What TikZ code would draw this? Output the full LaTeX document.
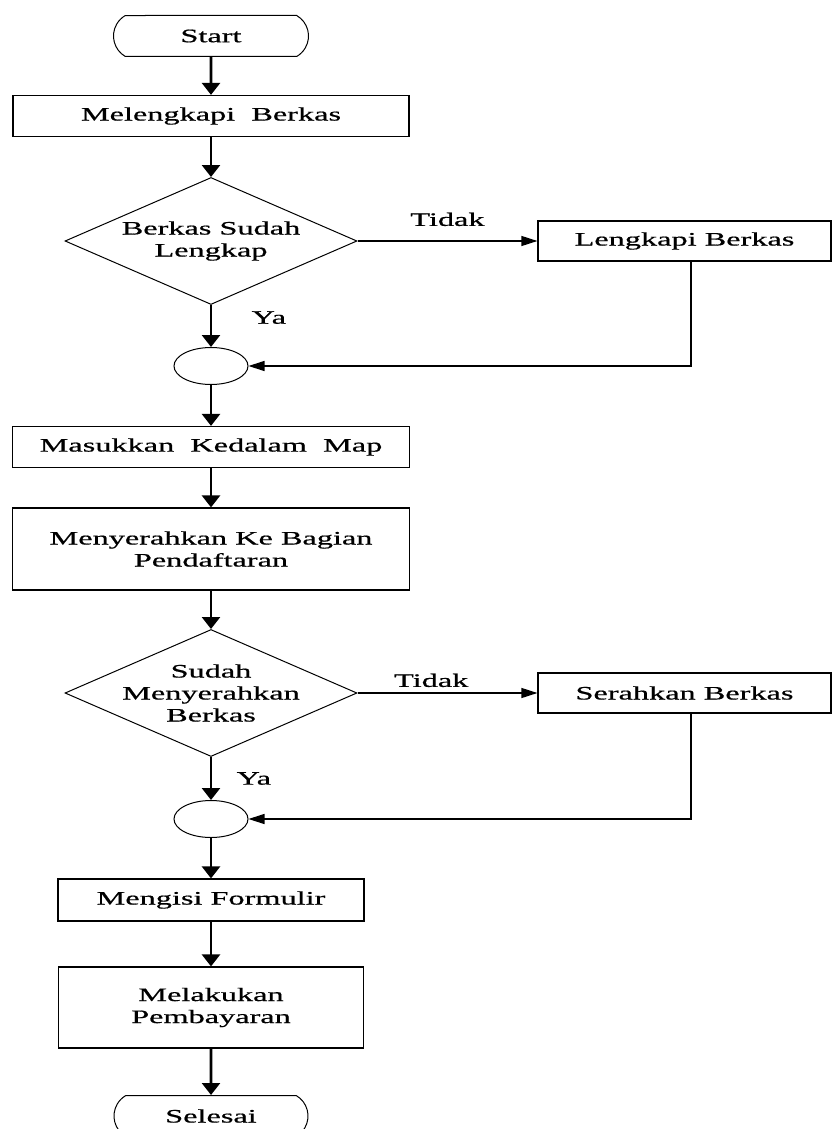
\documentclass[tikz,border=0pt]{standalone}
\usepackage{fontspec}
\setmainfont{Liberation Serif}[FakeStretch=1.7, FakeBold=0.7]
\usetikzlibrary{shapes, arrows.meta, positioning, calc}

\tikzset{
  terminal/.style={draw, line width=1pt, rounded rectangle, rounded rectangle arc length=120, minimum width=195, minimum height=41, inner sep=0pt},
  process/.style={draw, line width=1.2pt, minimum height=41, inner sep=0pt, align=center},
  decision/.style={draw, line width=1pt, diamond, minimum width=292, minimum height=127, inner sep=0pt},
  junction/.style={draw, line width=1pt, ellipse, minimum width=74, minimum height=37, inner sep=0pt},
  flow/.style={line width=2.6pt, -{Triangle[width=18pt, length=12pt]}},
  branch/.style={line width=1.2pt, -{Triangle[width=10pt, length=16pt]}},
}

\begin{document}
\begin{tikzpicture}[x=1pt, y=-1pt, font=\fontsize{19}{22}\selectfont]
  \useasboundingbox (0,0) rectangle (832,1129);

  % main column
  \node[terminal] (start) at (211,36) {Start};
  \node[process, minimum width=396] (melengkapi) at (211,116) {Melengkapi\ \ Berkas};
  \node[decision, label={[align=center]center:Berkas Sudah\\Lengkap}] (cekberkas) at (211,241) {};
  \node[junction] (gabung1) at (211,366) {};
  \node[process, minimum width=397] (masukkan) at (211,447) {Masukkan\ \ Kedalam\ \ Map};
  \node[process, minimum width=397, minimum height=82] (serahkan) at (211,549) {Menyerahkan Ke Bagian\\Pendaftaran};
  \node[decision, label={[align=center]center:Sudah\\Menyerahkan\\Berkas}] (cekserah) at (211,693) {};
  \node[junction] (gabung2) at (211,819) {};
  \node[process, minimum width=306, minimum height=42] (formulir) at (211,900) {Mengisi Formulir};
  \node[process, minimum width=305, minimum height=81] (bayar) at (211,1007.5) {Melakukan\\Pembayaran};
  \node[terminal, minimum width=194] (selesai) at (211,1116) {Selesai};

  % side boxes
  \node[process, minimum width=293, minimum height=40] (lengkapiberkas) at (684.5,241) {Lengkapi Berkas};
  \node[process, minimum width=293, minimum height=40] (serahkanberkas) at (684.5,693) {Serahkan Berkas};

  % arrows
  \draw[flow] (start) -- (melengkapi);
  \draw[flow] (melengkapi) -- (cekberkas);
  \draw[flow] (cekberkas) -- node[pos=0.3, right=36pt] {Ya} (gabung1);
  \draw[flow] (gabung1) -- (masukkan);
  \draw[flow] (masukkan) -- (serahkan);
  \draw[flow] (serahkan) -- (cekserah);
  \draw[flow] (cekserah) -- node[pos=0.5, right=21pt] {Ya} (gabung2);
  \draw[flow] (gabung2) -- (formulir);
  \draw[flow] (formulir) -- (bayar);
  \draw[flow] (bayar) -- (selesai);

  \draw[branch] (cekberkas) -- node[above=11pt] {Tidak} (lengkapiberkas);
  \draw[branch] (cekserah) -- node[pos=0.41, above=2pt] {Tidak} (serahkanberkas);
  \draw[branch] ([xshift=6.5pt]lengkapiberkas.south) |- (gabung1);
  \draw[branch] ([xshift=6.5pt]serahkanberkas.south) |- (gabung2);
\end{tikzpicture}
\end{document}
